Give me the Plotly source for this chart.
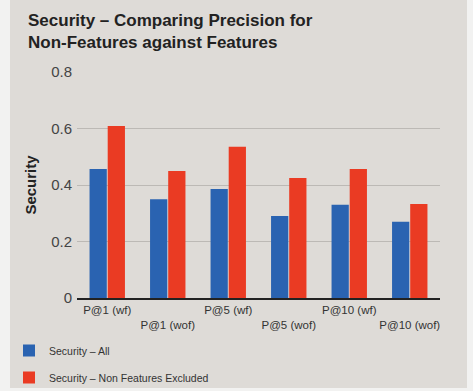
import plotly.graph_objects as go

categories = ["P@1 (wf)", "P@1 (wof)", "P@5 (wf)", "P@5 (wof)", "P@10 (wf)", "P@10 (wof)"]
tick_labels = ["P@1 (wf)", "<br>P@1 (wof)", "P@5 (wf)", "<br>P@5 (wof)", "P@10 (wf)", "<br>P@10 (wof)"]
security_all = [0.457, 0.35, 0.386, 0.29, 0.33, 0.27]
security_nfe = [0.609, 0.45, 0.535, 0.425, 0.457, 0.333]
series_names = ["Security – All", "Security – Non Features Excluded"]
title_text = "<b>Security – Comparing Precision for<br>Non-Features against Features</b>"

W, H = 473, 391
L, R, T, B = 77, 33, 72, 93
BG = "#dedbd7"

fig = go.Figure()
fig.add_trace(go.Bar(x=categories, y=security_all, name=series_names[0],
                     marker_color="#2a63b1", marker_line_width=0, legendgroup="a"))
fig.add_trace(go.Bar(x=categories, y=security_nfe, name=series_names[1],
                     marker_color="#ea3b23", marker_line_width=0, legendgroup="b"))

pw = W - L - R
ph = H - T - B
def px(x):
    return (x - L) / pw
def py(y):
    return (H - B - y) / ph

shapes = [
    dict(type="rect", xref="paper", yref="paper", x0=px(-2), x1=px(10), y0=py(-2), y1=py(H + 2),
         fillcolor="#f2f2f1", line_width=0, layer="below"),
    dict(type="rect", xref="paper", yref="paper", x0=px(467), x1=px(W + 2), y0=py(-2), y1=py(H + 2),
         fillcolor="#f2f2f1", line_width=0, layer="below"),
    dict(type="rect", xref="paper", yref="paper", x0=px(-2), x1=px(W + 2), y0=py(388), y1=py(H + 2),
         fillcolor="#f2f2f1", line_width=0, layer="below"),
]

fig.update_layout(
    width=W, height=H,
    margin=dict(l=L, r=R, t=T, b=B, autoexpand=False),
    paper_bgcolor=BG, plot_bgcolor=BG,
    barmode="group", bargap=0.4, bargroupgap=0.05,
    font=dict(family="Liberation Sans, Arial, sans-serif", color="#333333"),
    annotations=[dict(text=title_text, xref="paper", yref="paper",
                      x=px(26), xanchor="left", y=py(9), yanchor="top",
                      align="left", showarrow=False,
                      font=dict(family="Liberation Sans Narrow, Liberation Sans, Arial, sans-serif",
                                size=17, color="#222222"))],
    xaxis=dict(tickmode="array", tickvals=categories, ticktext=tick_labels,
               tickfont=dict(size=11.5, color="#333333"), showgrid=False,
               showline=True, linecolor="#222222", linewidth=1.5, ticks="",
               automargin=False),
    yaxis=dict(range=[0, 0.8], tickvals=[0, 0.2, 0.4, 0.6, 0.8],
               ticktext=["0", "0.2", "0.4", "0.6", "0.8"],
               tickfont=dict(size=15, color="#444444"), showgrid=True,
               gridcolor="#bcb9b5", gridwidth=1, zeroline=False, ticks="",
               ticklabelstandoff=4,
               title=dict(text="<b>Security</b>", font=dict(size=15, color="#222222"), standoff=10),
               automargin=False),
    legend=dict(x=px(9), xanchor="left", y=py(336), yanchor="top",
                font=dict(size=10.5, color="#333333"), tracegroupgap=8,
                bgcolor="rgba(0,0,0,0)", itemwidth=30),
    showlegend=True,
    shapes=shapes,
)

fig.write_html("out.html")
